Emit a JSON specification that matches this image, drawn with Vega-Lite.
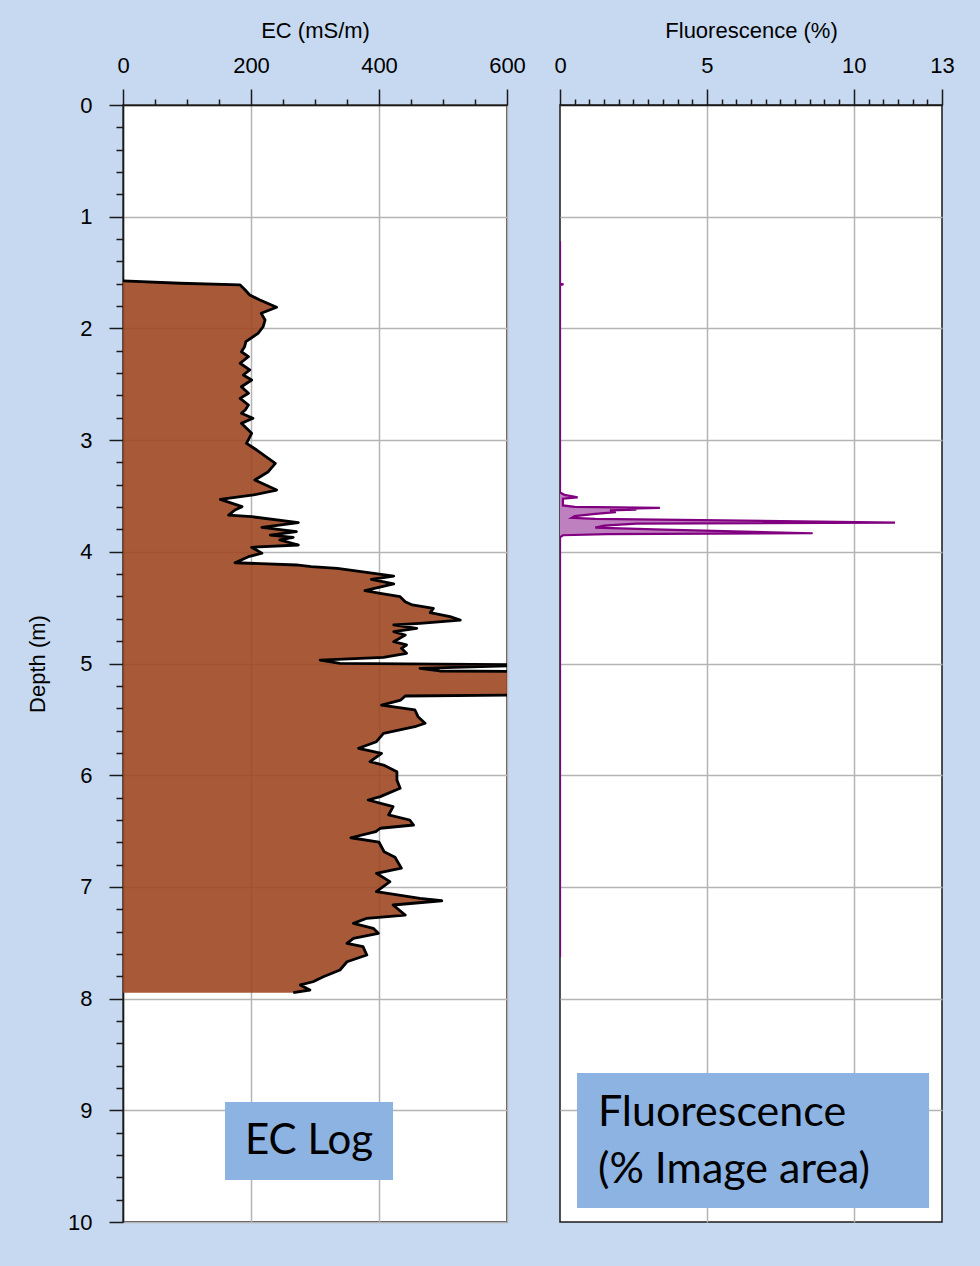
{
  "$schema": "https://vega.github.io/schema/vega-lite/v6.json",
  "background": "#c6d9f0",
  "padding": {"left": 25, "top": 18, "right": 38, "bottom": 40},
  "spacing": 53,
  "bounds": "flush",
  "datasets": {
    "ec": [
      {"depth": 1.575, "ec": 0}, {"depth": 1.596, "ec": 89}, {"depth": 1.611, "ec": 183}, {"depth": 1.656, "ec": 191},
      {"depth": 1.701, "ec": 198}, {"depth": 1.746, "ec": 214}, {"depth": 1.811, "ec": 240}, {"depth": 1.865, "ec": 216},
      {"depth": 1.925, "ec": 222}, {"depth": 1.985, "ec": 219}, {"depth": 2.044, "ec": 211}, {"depth": 2.119, "ec": 192},
      {"depth": 2.164, "ec": 190}, {"depth": 2.209, "ec": 185}, {"depth": 2.253, "ec": 196}, {"depth": 2.312, "ec": 183},
      {"depth": 2.372, "ec": 198}, {"depth": 2.417, "ec": 188}, {"depth": 2.462, "ec": 201}, {"depth": 2.522, "ec": 185},
      {"depth": 2.581, "ec": 196}, {"depth": 2.626, "ec": 183}, {"depth": 2.686, "ec": 196}, {"depth": 2.731, "ec": 191},
      {"depth": 2.76, "ec": 185}, {"depth": 2.805, "ec": 203}, {"depth": 2.85, "ec": 185}, {"depth": 2.939, "ec": 201},
      {"depth": 3.029, "ec": 193}, {"depth": 3.089, "ec": 209}, {"depth": 3.208, "ec": 238}, {"depth": 3.283, "ec": 227},
      {"depth": 3.357, "ec": 206}, {"depth": 3.447, "ec": 240}, {"depth": 3.491, "ec": 204}, {"depth": 3.53, "ec": 152},
      {"depth": 3.596, "ec": 186}, {"depth": 3.626, "ec": 175}, {"depth": 3.671, "ec": 165}, {"depth": 3.686, "ec": 201},
      {"depth": 3.739, "ec": 274}, {"depth": 3.781, "ec": 217}, {"depth": 3.82, "ec": 271}, {"depth": 3.85, "ec": 230},
      {"depth": 3.87, "ec": 266}, {"depth": 3.894, "ec": 245}, {"depth": 3.939, "ec": 274}, {"depth": 3.96, "ec": 201},
      {"depth": 4.013, "ec": 217}, {"depth": 4.044, "ec": 196}, {"depth": 4.098, "ec": 175}, {"depth": 4.118, "ec": 271},
      {"depth": 4.133, "ec": 294}, {"depth": 4.148, "ec": 335}, {"depth": 4.193, "ec": 392}, {"depth": 4.217, "ec": 423},
      {"depth": 4.246, "ec": 388}, {"depth": 4.288, "ec": 423}, {"depth": 4.348, "ec": 378}, {"depth": 4.372, "ec": 402},
      {"depth": 4.402, "ec": 433}, {"depth": 4.447, "ec": 441}, {"depth": 4.476, "ec": 452}, {"depth": 4.506, "ec": 485},
      {"depth": 4.545, "ec": 480}, {"depth": 4.581, "ec": 511}, {"depth": 4.611, "ec": 527}, {"depth": 4.64, "ec": 464},
      {"depth": 4.655, "ec": 423}, {"depth": 4.685, "ec": 459}, {"depth": 4.715, "ec": 423}, {"depth": 4.745, "ec": 441},
      {"depth": 4.805, "ec": 423}, {"depth": 4.834, "ec": 443}, {"depth": 4.864, "ec": 435}, {"depth": 4.909, "ec": 443},
      {"depth": 4.945, "ec": 407}, {"depth": 4.969, "ec": 308}, {"depth": 4.998, "ec": 339}, {"depth": 5.013, "ec": 650},
      {"depth": 5.043, "ec": 464}, {"depth": 5.067, "ec": 495}, {"depth": 5.073, "ec": 650}, {"depth": 5.28, "ec": 650},
      {"depth": 5.291, "ec": 441}, {"depth": 5.327, "ec": 434}, {"depth": 5.372, "ec": 404}, {"depth": 5.416, "ec": 456},
      {"depth": 5.476, "ec": 461}, {"depth": 5.535, "ec": 472}, {"depth": 5.566, "ec": 456}, {"depth": 5.625, "ec": 407},
      {"depth": 5.7, "ec": 396}, {"depth": 5.759, "ec": 368}, {"depth": 5.804, "ec": 404}, {"depth": 5.879, "ec": 386},
      {"depth": 5.909, "ec": 407}, {"depth": 5.969, "ec": 428}, {"depth": 6.043, "ec": 428}, {"depth": 6.117, "ec": 433},
      {"depth": 6.192, "ec": 402}, {"depth": 6.222, "ec": 383}, {"depth": 6.282, "ec": 422}, {"depth": 6.356, "ec": 415},
      {"depth": 6.401, "ec": 448}, {"depth": 6.446, "ec": 454}, {"depth": 6.475, "ec": 402}, {"depth": 6.506, "ec": 395},
      {"depth": 6.56, "ec": 356}, {"depth": 6.6, "ec": 400}, {"depth": 6.685, "ec": 408}, {"depth": 6.735, "ec": 425},
      {"depth": 6.833, "ec": 435}, {"depth": 6.878, "ec": 396}, {"depth": 6.953, "ec": 417}, {"depth": 7.043, "ec": 396},
      {"depth": 7.102, "ec": 464}, {"depth": 7.124, "ec": 498}, {"depth": 7.162, "ec": 422}, {"depth": 7.252, "ec": 441},
      {"depth": 7.281, "ec": 381}, {"depth": 7.326, "ec": 360}, {"depth": 7.371, "ec": 391}, {"depth": 7.416, "ec": 399},
      {"depth": 7.46, "ec": 360}, {"depth": 7.505, "ec": 350}, {"depth": 7.535, "ec": 375}, {"depth": 7.61, "ec": 381},
      {"depth": 7.67, "ec": 350}, {"depth": 7.744, "ec": 339}, {"depth": 7.804, "ec": 313}, {"depth": 7.849, "ec": 297},
      {"depth": 7.878, "ec": 277}, {"depth": 7.923, "ec": 292}, {"depth": 7.947, "ec": 266}
    ],
    "fl": [
      {"depth": 1.218, "fl": 0}, {"depth": 1.6, "fl": 0}, {"depth": 1.605, "fl": 0.12}, {"depth": 1.612, "fl": 0},
      {"depth": 3.47, "fl": 0}, {"depth": 3.49, "fl": 0.15}, {"depth": 3.512, "fl": 0.6}, {"depth": 3.525, "fl": 0.1},
      {"depth": 3.585, "fl": 0.1}, {"depth": 3.598, "fl": 0.5}, {"depth": 3.606, "fl": 3.4}, {"depth": 3.614, "fl": 2.3},
      {"depth": 3.622, "fl": 2.6}, {"depth": 3.63, "fl": 1.7}, {"depth": 3.645, "fl": 1.9}, {"depth": 3.66, "fl": 1.2},
      {"depth": 3.68, "fl": 0.5}, {"depth": 3.695, "fl": 0.4}, {"depth": 3.705, "fl": 1.2}, {"depth": 3.738, "fl": 11.4},
      {"depth": 3.748, "fl": 2.6}, {"depth": 3.765, "fl": 1.5}, {"depth": 3.784, "fl": 1.2}, {"depth": 3.8, "fl": 3.2},
      {"depth": 3.834, "fl": 8.6}, {"depth": 3.842, "fl": 1.6}, {"depth": 3.852, "fl": 0.1}, {"depth": 3.87, "fl": 0},
      {"depth": 7.63, "fl": 0}
    ],
    "notes": [
      {"panel": "ec", "label": ["EC Log"], "x1": 159.4, "x2": 421.9, "y1": 8.926, "y2": 9.624, "tx": 290.6, "ty": 9.275},
      {"panel": "fl", "label": ["Fluorescence", "(% Image area)"], "x1": 0.58, "x2": 12.56, "y1": 8.666, "y2": 9.875, "tx": 1.29, "ty": 9.024}
    ]
  },
  "hconcat": [
    {
      "width": 384,
      "height": 1117,
      "layer": [
        {
          "data": {"name": "ec"},
          "mark": {"type": "area", "orient": "horizontal", "fill": "#9e4822", "fillOpacity": 0.9, "clip": true},
          "encoding": {
            "y": {"field": "depth", "type": "quantitative",
              "scale": {"domain": [0, 10], "reverse": true, "nice": false, "zero": false},
              "axis": {
                "orient": "left", "title": "Depth (m)", "titlePadding": 18, "tickCount": 1000,
                "values": [0,0.2,0.4,0.6,0.8,1,1.2,1.4,1.6,1.8,2,2.2,2.4,2.6,2.8,3,3.2,3.4,3.6,3.8,4,4.2,4.4,4.6,4.8,5,5.2,5.4,5.6,5.8,6,6.2,6.4,6.6,6.8,7,7.2,7.4,7.6,7.8,8,8.2,8.4,8.6,8.8,9,9.2,9.4,9.6,9.8,10],
                "labelExpr": "abs(datum.value - round(datum.value)) < 0.001 ? format(datum.value, 'd') : ''",
                "tickSize": {"condition": {"test": "abs(datum.value - round(datum.value)) < 0.001", "value": 14}, "value": 7},
                "gridOpacity": {"condition": {"test": "abs(datum.value - round(datum.value)) < 0.001", "value": 1}, "value": 0},
                "labelPadding": 17, "labelOverlap": false, "labelBound": false
              }
            },
            "x": {"field": "ec", "type": "quantitative", "stack": null,
              "scale": {"domain": [0, 600], "nice": false},
              "axis": {
                "orient": "top", "title": "EC (mS/m)", "titlePadding": 12, "tickCount": 1000,
                "values": [0,50,100,150,200,250,300,350,400,450,500,550,600],
                "labelExpr": "datum.value % 200 === 0 ? format(datum.value, 'd') : ''",
                "tickSize": {"condition": {"test": "datum.value % 200 === 0", "value": 16}, "value": 6},
                "gridOpacity": {"condition": {"test": "datum.value % 200 === 0", "value": 1}, "value": 0},
                "labelPadding": 12, "labelFlush": false, "labelOverlap": false, "labelBound": false
              }
            }
          }
        },
        {
          "data": {"name": "ec"},
          "mark": {"type": "line", "color": "#000000", "strokeWidth": 2.8, "clip": true, "strokeJoin": "round"},
          "encoding": {
            "y": {"field": "depth", "type": "quantitative"},
            "x": {"field": "ec", "type": "quantitative"},
            "order": {"field": "depth", "type": "quantitative"}
          }
        },
        {
          "data": {"name": "notes"},
          "transform": [{"filter": "datum.panel === 'ec'"}],
          "mark": {"type": "rect", "fill": "#8db3e2"},
          "encoding": {
            "x": {"field": "x1", "type": "quantitative"},
            "x2": {"field": "x2"},
            "y": {"field": "y1", "type": "quantitative"},
            "y2": {"field": "y2"}
          }
        },
        {
          "data": {"name": "notes"},
          "transform": [{"filter": "datum.panel === 'ec'"}],
          "mark": {"type": "text", "font": "Lato", "fontSize": 42, "align": "center", "baseline": "middle", "color": "#000000"},
          "encoding": {
            "x": {"field": "tx", "type": "quantitative"},
            "y": {"field": "ty", "type": "quantitative"},
            "text": {"field": "label"}
          }
        }
      ]
    },
    {
      "width": 382,
      "height": 1117,
      "layer": [
        {
          "data": {"name": "fl"},
          "mark": {"type": "area", "orient": "horizontal", "fill": "#bf80bf", "clip": true},
          "encoding": {
            "y": {"field": "depth", "type": "quantitative",
              "scale": {"domain": [0, 10], "reverse": true, "nice": false, "zero": false},
              "axis": {
                "orient": "left", "title": null, "labels": false, "ticks": false, "domain": false, "tickCount": 1000,
                "values": [1,2,3,4,5,6,7,8,9]
              }
            },
            "x": {"field": "fl", "type": "quantitative", "stack": null,
              "scale": {"domain": [0, 13], "nice": false},
              "axis": {
                "orient": "top", "title": "Fluorescence (%)", "titlePadding": 12, "tickCount": 1000,
                "values": [0,0.5,1,1.5,2,2.5,3,3.5,4,4.5,5,5.5,6,6.5,7,7.5,8,8.5,9,9.5,10,10.5,11,11.5,12,12.5,13],
                "labelExpr": "(datum.value % 5 === 0 || datum.value === 13) ? format(datum.value, 'd') : ''",
                "tickSize": {"condition": {"test": "datum.value % 5 === 0 || datum.value === 13", "value": 16}, "value": 6},
                "gridOpacity": {"condition": {"test": "datum.value === 5 || datum.value === 10", "value": 1}, "value": 0},
                "labelPadding": 12, "labelFlush": false, "labelOverlap": false, "labelBound": false
              }
            }
          }
        },
        {
          "data": {"name": "fl"},
          "mark": {"type": "line", "color": "#800080", "strokeWidth": 2.2, "clip": true},
          "encoding": {
            "y": {"field": "depth", "type": "quantitative"},
            "x": {"field": "fl", "type": "quantitative"},
            "order": {"field": "depth", "type": "quantitative"}
          }
        },
        {
          "data": {"name": "notes"},
          "transform": [{"filter": "datum.panel === 'fl'"}],
          "mark": {"type": "rect", "fill": "#8db3e2"},
          "encoding": {
            "x": {"field": "x1", "type": "quantitative"},
            "x2": {"field": "x2"},
            "y": {"field": "y1", "type": "quantitative"},
            "y2": {"field": "y2"}
          }
        },
        {
          "data": {"name": "notes"},
          "transform": [{"filter": "datum.panel === 'fl'"}],
          "mark": {"type": "text", "font": "Lato", "fontSize": 43, "align": "left", "baseline": "middle", "lineHeight": 57, "color": "#000000"},
          "encoding": {
            "x": {"field": "tx", "type": "quantitative"},
            "y": {"field": "ty", "type": "quantitative"},
            "text": {"field": "label"}
          }
        }
      ]
    }
  ],
  "config": {
    "view": {"stroke": "#1a1a1a", "strokeWidth": 1.5, "fill": "#ffffff"},
    "axis": {
      "labelFont": "Liberation Sans", "titleFont": "Liberation Sans",
      "labelFontSize": 22, "titleFontSize": 22, "titleFontWeight": "normal",
      "labelColor": "#000000", "titleColor": "#000000",
      "tickColor": "#1a1a1a", "tickWidth": 1.5,
      "domainColor": "#1a1a1a", "domainWidth": 1.5,
      "grid": true, "gridColor": "#b4b4b4", "gridWidth": 1.5
    }
  }
}
